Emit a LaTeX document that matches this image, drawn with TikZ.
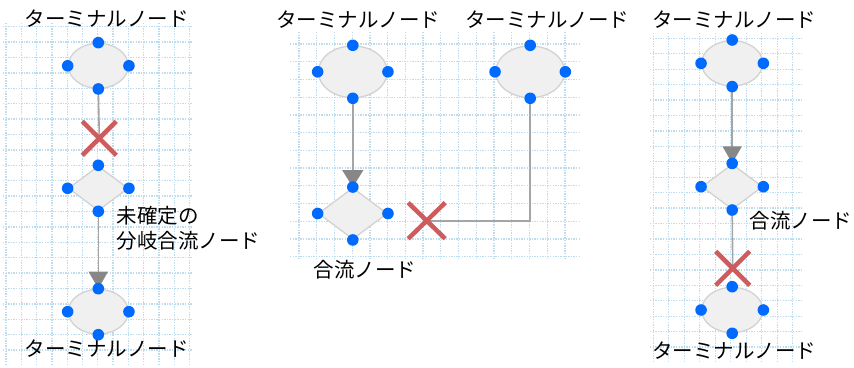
\documentclass[tikz,border=0pt]{standalone}
\usepackage{fontspec}
\setmainfont{Noto Sans CJK JP}
\usetikzlibrary{shapes.geometric,arrows.meta}

\definecolor{gridblue}{RGB}{190,220,240}
\definecolor{nodefill}{RGB}{240,240,240}
\definecolor{nodeline}{RGB}{210,210,210}
\definecolor{handle}{RGB}{0,106,255}
\definecolor{linkgray}{RGB}{165,165,165}
\definecolor{tipgray}{RGB}{135,135,135}
\definecolor{crossred}{RGB}{206,92,92}

\begin{document}
\begin{tikzpicture}[x=1pt,y=-1pt,line cap=round,line join=round,
  every node/.style={font=\fontsize{20.5}{25.5}\selectfont,inner sep=0pt},
  gridln/.style={gridblue,line width=1.3pt,line cap=butt,dash pattern=on 1.3pt off 1.3pt},
  term/.style={ellipse,draw=nodeline,fill=nodefill,line width=1.3pt},
  merge/.style={diamond,draw=nodeline,fill=nodefill,line width=1.3pt},
  link/.style={linkgray,line width=1.6pt,line cap=butt},
  arr/.style={link,-{Triangle[width=#1,length=17pt,color=tipgray]}},
  arr/.default=19pt,
  cross/.style={crossred,line width=4.5pt,line cap=butt}]
  \useasboundingbox (0,0) rectangle (854,367);

  % grid sheets
  \foreach \i in {0,...,12} \draw[gridln] ({6+15.3*\i},23) -- ({6+15.3*\i},366);
  \foreach \j in {0,...,21} \draw[gridln] (3,{26.7+15.4*\j}) -- (192,{26.7+15.4*\j});
  \foreach \i in {0,...,15} \draw[gridln] ({299+17.73*\i},32) -- ({299+17.73*\i},259);
  \foreach \j in {0,...,12} \draw[gridln] (290,{44+17.72*\j}) -- (580,{44+17.72*\j});
  \foreach \i in {0,...,9} \draw[gridln] ({653.3+15.5*\i},33) -- ({653.3+15.5*\i},362);
  \foreach \j in {0,...,20} \draw[gridln] (650,{38.3+15.44*\j}) -- (802,{38.3+15.44*\j});

  % left: undetermined branch/merge
  \node[term,minimum width=60pt,minimum height=45pt] (t1) at (98.3,65.8) {};
  \node[merge,minimum width=60pt,minimum height=44.7pt] (m1) at (98.3,188.3) {};
  \node[term,minimum width=60pt,minimum height=44.7pt] (t2) at (98.3,311.7) {};
  \coordinate (x1) at (99.3,138.3);
  \draw[link] (t1.south) -- (x1);
  \draw[arr] (m1.south) -- (t2.north);
  \draw[cross] (x1) +(-17,-17) -- +(17,17) (x1) +(-17,17) -- +(17,-17);
  \node (l1) at (106.5,19) {ターミナルノード};
  \node[align=left,anchor=west] (l2) at (116.7,228) {未確定の\\分岐合流ノード};
  \node (l3) at (106.5,349) {ターミナルノード};

  % middle: merge
  \node[term,minimum width=69pt,minimum height=51.7pt] (t3) at (352.8,71.8) {};
  \node[term,minimum width=69pt,minimum height=51.7pt] (t4) at (530.2,71.8) {};
  \node[merge,minimum width=69pt,minimum height=51.6pt] (m2) at (352.8,213.5) {};
  \coordinate (x2) at (426.7,220.7);
  \draw[arr=21pt] (t3.south) -- (m2.north);
  \draw[link] (t4.south) |- (x2);
  \draw[cross] (x2) +(-18.5,-18) -- +(18.5,18) (x2) +(-18.5,18) -- +(18.5,-18);
  \node (l4) at (358,20) {ターミナルノード};
  \node (l5) at (547,20) {ターミナルノード};
  \node (l6) at (365,270) {合流ノード};

  % right: merge then terminal
  \node[term,minimum width=61pt,minimum height=45.3pt] (t5) at (732.2,63.3) {};
  \node[merge,minimum width=61pt,minimum height=45.3pt] (m3) at (732.2,186.7) {};
  \node[term,minimum width=61pt,minimum height=45.3pt] (t6) at (732.2,310) {};
  \coordinate (x3) at (732.7,268.3);
  \draw[arr] (t5.south) -- (m3.north);
  \draw[link] (m3.south) -- (x3);
  \draw[cross] (x3) +(-17,-17) -- +(17,17) (x3) +(-17,17) -- +(17,-17);
  \node (l7) at (734,20) {ターミナルノード};
  \node (l8) at (801,221) {合流ノード};
  \node (l9) at (734,351) {ターミナルノード};

  % selection handles
  \foreach \n in {t1,m1,t2,t3,t4,m2,t5,m3,t6}
    \foreach \a in {north,south,east,west}
      \fill[handle] (\n.\a) circle[radius=5.8pt];
\end{tikzpicture}
\end{document}
